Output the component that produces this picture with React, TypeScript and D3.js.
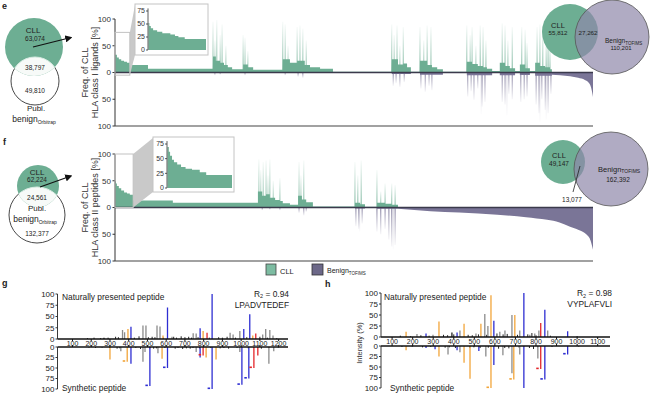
import React from "react";
import * as d3 from "d3";

type Pt = [number, number];
type Peak = [number, number, string, number?];

const FONT = "Arial, 'Liberation Sans', Helvetica, sans-serif";
const CLL = "#6dae93";
const BEN = "#7a7597";
const ZERO = "#3b3a4c";

// ---------------- Panel e (x: peptide rank percentile, y: frequency %) ----------------
const eCllSteps: Pt[] = [[0,33],[0.4,28],[0.8,25],[1.3,22],[1.9,20],[2.5,18],[3.1,14],[6.9,7],[20.5,30],[21.1,22],[22.0,18],[22.8,14],[23.6,10],[24.5,6],[26.8,15],[27.8,10],[28.9,5],[35.1,25],[36.6,18],[38.1,22],[39.7,14],[40.8,10],[42.9,7],[45.6,1.5],[57.9,25],[59.2,15],[60.3,17],[61.1,10],[61.9,1.5],[63.8,22],[65.3,14],[66.3,10],[67.4,6],[68.6,1.5],[73.6,20],[74.7,16],[75.9,12],[77.0,10],[77.8,7],[78.9,3],[80.5,18],[81.6,12],[82.6,8],[83.7,3],[84.7,15],[85.8,8],[86.8,3],[87.9,18],[88.9,12],[90.0,10],[91.0,6],[91.4,0],[100,0]];
const eCllSpikes: Pt[] = [[20.5,95],[20.9,60],[21.3,98],[22.0,70],[22.4,90],[23.2,50],[26.8,70],[27.2,65],[27.8,40],[35.1,95],[35.6,90],[36.2,50],[38.1,85],[38.7,88],[39.3,82],[40.0,60],[57.9,90],[58.4,70],[59.0,88],[59.6,50],[60.3,85],[63.8,85],[64.6,60],[65.3,88],[66.1,85],[73.6,88],[74.3,70],[74.7,85],[75.5,50],[76.4,88],[77.0,85],[77.6,60],[81.0,92],[81.6,88],[82.2,60],[83.1,85],[85.1,85],[85.8,80],[86.2,55],[88.3,85],[88.9,90],[89.5,80],[90.2,60],[90.6,85],[91.0,50]];
const eBenSteps: Pt[] = [[0,0],[20.5,1],[24.5,0.3],[35.1,1],[42.9,0.3],[57.9,3],[61.9,0.5],[63.8,4],[68.6,0.5],[73.6,5],[78.9,1],[80.5,5],[83.7,1],[84.7,4.5],[86.8,1],[87.9,6],[91.4,0],[100,0]];
const eBenSpikes: Pt[] = [[20.9,5],[22.0,4],[27.2,5],[35.6,5],[38.3,8],[39.3,10],[58.2,25],[58.8,20],[59.6,27],[60.5,18],[64.0,30],[64.9,36],[65.7,25],[66.3,33],[73.8,45],[74.5,35],[75.1,51],[75.9,30],[76.8,64],[77.4,55],[81.0,55],[81.6,60],[82.4,40],[83.1,50],[84.9,55],[85.6,50],[86.2,45],[88.1,60],[88.7,76],[89.3,50],[90.0,70],[90.6,76],[91.2,40]];
const eBenFaint: Pt[] = [[88.9,92],[90.2,88],[82.0,80],[76.6,78]];
const eBenTail: Pt[] = [[91.4,4],[93.1,5],[95.2,7],[96.9,10],[98.3,14],[99.2,20],[99.6,28],[99.8,36],[100,46]];
const eInset: Pt[] = [[0,52],[0.015,46],[0.04,42],[0.08,38],[0.15,35],[0.24,32],[0.38,30],[0.46,27],[0.52,24.5],[0.63,21],[1,21]];

// ---------------- Panel f ----------------
const fCllSteps: Pt[] = [[0,49],[0.2,45],[0.4,40],[0.8,36],[1.3,32],[1.9,28],[2.5,26],[3.1,24],[3.8,13],[12.1,9],[29.9,30],[30.8,22],[31.6,25],[32.4,18],[33.5,14],[34.5,12],[35.1,8],[36.6,5],[38.3,22],[39.1,15],[40.0,10],[41.4,2],[50.2,9],[51.3,6],[52.3,1.5],[54.8,9],[56.5,7],[57.9,5],[59.2,0],[100,0]];
const fCllSpikes: Pt[] = [[30.1,90],[30.5,70],[31.0,85],[31.6,88],[32.0,60],[32.4,90],[33.1,50],[34.5,55],[38.5,85],[38.9,60],[39.5,88],[50.2,85],[50.8,60],[51.5,88],[54.8,70],[55.6,30],[56.5,45],[57.9,45],[58.6,42]];
const fBenSteps: Pt[] = [[0,0],[29.9,0.6],[35.1,0.3],[38.3,1],[41.4,0.2],[50.2,2],[52.3,0.3],[54.8,2.5],[59.2,0],[100,0]];
const fBenSpikes: Pt[] = [[30.8,5],[32.4,4],[34.5,5],[38.5,10],[39.5,15],[40.0,8],[50.4,35],[51.0,40],[51.7,30],[54.8,45],[55.6,50],[56.5,40],[57.3,60],[57.9,73],[58.6,70]];
const fBenFaint: Pt[] = [[58.2,78],[51.2,45]];
const fBenTail: Pt[] = [[59.2,2.5],[66,7],[72,9.5],[80,13.5],[86,18],[90.4,23],[93,28],[95.2,36],[97,42],[98.7,51],[99.5,62],[100,79]];
const fInset: Pt[] = [[0,70],[0.02,62],[0.04,55],[0.07,48],[0.1,44],[0.15,40],[0.21,36],[0.28,33],[0.38,31],[0.5,27],[0.6,22],[1,22]];

const freqTicks = [100, 50, 0, -50, -100];
const insetTicks = [0, 25, 50, 75];

// ---------------- Panels g / h (m/z, relative intensity %) ----------------
const gNatural: Peak[] = [[268,3,"k"],[367,20,"g"],[378,15,"g"],[396,22,"o"],[412,27,"b"],[476,30,"g"],[492,30,"g"],[551,30,"g"],[567,28,"g"],[583,8,"o"],[607,70,"b"],[631,5,"g"],[744,13,"g"],[760,12,"g"],[781,24,"b"],[797,18,"o"],[818,14,"r"],[845,100,"b"],[941,14,"g"],[957,10,"g"],[993,18,"g"],[1014,22,"b"],[1046,55,"b"],[1062,8,"o"],[1078,12,"r"],[1115,10,"g"],[1131,22,"g"],[1153,20,"g"],[1170,8,"g"]];
const gSynthetic: Peak[] = [[300,30,"o"],[358,10,"g"],[392,35,"o",1],[412,40,"b"],[476,35,"g"],[487,12,"g"],[513,93,"b",1],[556,15,"g"],[578,28,"o"],[607,50,"b",1],[760,12,"g"],[781,25,"b"],[797,20,"r",1],[813,25,"o"],[845,100,"b",1],[866,30,"o"],[993,12,"g"],[1004,90,"b",1],[1041,75,"b",1],[1068,50,"r",1],[1089,20,"r"],[1148,40,"g"],[1174,10,"g"]];
const gNoise: Pt[] = [[180,2],[215,3],[250,2],[290,3],[330,5],[345,4],[430,3],[455,6],[505,4],[525,5],[540,4],[585,3],[640,5],[655,3],[680,6],[700,4],[720,5],[735,3],[770,4],[830,3],[880,4],[900,3],[925,5],[970,3],[1030,4],[1100,5],[1140,3],[1190,2]];
const gTicks = [100,200,300,400,500,600,700,800,900,1000,1100,1200];

const hNatural: Peak[] = [[168,12,"o"],[221,7,"g"],[265,8,"b"],[299,5,"g"],[328,35,"o"],[391,10,"k"],[416,10,"b"],[430,15,"g"],[450,30,"o"],[508,8,"g"],[532,30,"o"],[551,52,"g"],[566,25,"g"],[581,95,"o"],[595,37,"b"],[624,12,"g"],[649,15,"g"],[683,50,"g"],[697,50,"o"],[721,15,"g"],[741,100,"b"],[770,5,"g"],[794,8,"g"],[814,15,"g"],[823,32,"r"],[843,62,"b"],[857,15,"g"],[954,13,"b"]];
const hSynthetic: Peak[] = [[168,10,"o"],[265,5,"b"],[309,8,"b"],[328,25,"o"],[372,20,"g"],[416,10,"b"],[430,15,"g"],[450,40,"o"],[479,78,"o"],[522,12,"b"],[556,25,"g"],[581,100,"o",1],[595,45,"b"],[639,22,"g"],[683,65,"g"],[692,80,"o",1],[721,20,"g"],[741,100,"b"],[809,30,"g"],[823,55,"r",1],[843,80,"b",1],[954,20,"b",1]];
const hNoise: Pt[] = [[140,3],[190,2],[240,4],[280,3],[350,5],[370,4],[400,6],[470,5],[490,4],[520,6],[560,5],[610,8],[640,6],[660,7],[710,5],[760,6],[780,9],[800,4],[870,3],[1000,2]];
const hTicks = [100,200,300,400,500,600,700,800,900,1000,1100];
const intTicks = [0, 25, 50, 75, 100];

const PEAK_COLORS: Record<string, string> = { g: "#8b8b8b", o: "#f2a53a", b: "#2e2ed2", r: "#e3262a", k: "#222222" };

function FreqPanel(p: {
  yTop: number; yBot: number; cllSteps: Pt[]; cllSpikes: Pt[]; benSteps: Pt[]; benSpikes: Pt[];
  benFaint: Pt[]; benTail: Pt[]; inset: Pt[];
  box: { x: number; y: number; w: number; h: number; ax: number; ay0: number; ay75: number };
  zoom: { u1: number; vTop: number; vBot: number }; lines: string[];
}) {
  const x = d3.scaleLinear().domain([0, 100]).range([115, 593]);
  const y = d3.scaleLinear().domain([-100, 100]).range([p.yBot, p.yTop]);
  const y0 = y(0);
  const up = d3.area<Pt>().x(d => x(d[0])).y0(y0).y1(d => y(d[1])).curve(d3.curveStepAfter);
  const down = d3.area<Pt>().x(d => x(d[0])).y0(y0).y1(d => y(-d[1])).curve(d3.curveStepAfter);
  const tail = d3.area<Pt>().x(d => x(d[0])).y0(y0).y1(d => y(-d[1])).curve(d3.curveMonotoneX);
  const b = p.box;
  const xi = d3.scaleLinear().domain([0, 1]).range([b.ax + 0.5, b.x + b.w - 2]);
  const yi = d3.scaleLinear().domain([0, 75]).range([b.ay0, b.ay75]);
  const insetArea = d3.area<Pt>().x(d => xi(d[0])).y0(yi(0)).y1(d => yi(d[1])).curve(d3.curveStepAfter);
  const zx = x(p.zoom.u1);
  const trap = [[zx, y(p.zoom.vTop)], [b.x, b.y + 1], [b.x, b.y + b.h], [zx, y(p.zoom.vBot)]];
  const yc = (p.yTop + p.yBot) / 2;
  return (
    <g>
      <path d={down(p.benSteps) || ""} fill={BEN} />
      <path d={tail(p.benTail) || ""} fill={BEN} />
      {p.benFaint.map((d, i) => (
        <rect key={"bf" + i} x={x(d[0]) - 0.4} y={y0} width={0.8} height={y(-d[1]) - y0} fill="url(#gradB)" opacity={0.4} />
      ))}
      {p.benSpikes.map((d, i) => (
        <rect key={"bs" + i} x={x(d[0]) - 0.5} y={y0} width={1} height={y(-d[1]) - y0} fill="url(#gradB)" />
      ))}
      <path d={up(p.cllSteps) || ""} fill={CLL} />
      {p.cllSpikes.map((d, i) => (
        <rect key={"cs" + i} x={x(d[0]) - 0.5} y={y(d[1])} width={1} height={y0 - y(d[1])} fill="url(#gradC)" />
      ))}
      <line x1={x(0)} x2={x(100)} y1={y0} y2={y0} stroke={ZERO} strokeWidth={1.7} />
      <line x1={115} x2={115} y1={p.yTop} y2={p.yBot} stroke="#333" strokeWidth={1} />
      <line x1={115} x2={x(100)} y1={p.yBot} y2={p.yBot} stroke="#444" strokeWidth={1.2} />
      {freqTicks.map((t, i) => (
        <g key={"t" + i}>
          <line x1={112.5} x2={115} y1={y(t)} y2={y(t)} stroke="#333" />
          <text x={111} y={y(t) + 2.8} fontSize={8} textAnchor="end" fill="#333">{Math.abs(t)}</text>
        </g>
      ))}
      <text transform={`translate(88,${yc}) rotate(-90)`} fontSize={9} textAnchor="middle" fill="#333">{p.lines[0]}</text>
      <text transform={`translate(97.5,${yc}) rotate(-90)`} fontSize={9} textAnchor="middle" fill="#333">{p.lines[1]}</text>
      {/* zoom connector */}
      <polygon points={trap.map(q => q.join(",")).join(" ")} fill="#c9c9c9" />
      <rect x={115} y={y(p.zoom.vTop)} width={zx - 115} height={y(p.zoom.vBot) - y(p.zoom.vTop)} fill="none" stroke="#c2c2c2" strokeWidth={1} />
      {/* inset */}
      <rect x={b.x} y={b.y} width={b.w} height={b.h} fill="#fff" stroke="#c4c4c4" strokeWidth={1} />
      <path d={insetArea(p.inset) || ""} fill={CLL} />
      <line x1={b.ax} x2={b.ax} y1={yi(0)} y2={yi(80)} stroke="#333" strokeWidth={0.8} />
      {insetTicks.map(t => (
        <g key={"it" + t}>
          <line x1={b.ax - 2} x2={b.ax} y1={yi(t)} y2={yi(t)} stroke="#333" strokeWidth={0.8} />
          <text x={b.ax - 3} y={yi(t) + 2.4} fontSize={7} textAnchor="end" fill="#333">{t}</text>
        </g>
      ))}
    </g>
  );
}

function LeftVenn(p: { id: string; g: [number, number, number]; w: [number, number, number]; texts: [string, number, number, number][]; arrow: [number, number, number, number]; pub: [number, number] }) {
  return (
    <g>
      <defs>
        <clipPath id={p.id}><circle cx={p.g[0]} cy={p.g[1]} r={p.g[2]} /></clipPath>
      </defs>
      <circle cx={p.w[0]} cy={p.w[1]} r={p.w[2]} fill="#fff" stroke="#333" strokeWidth={0.9} />
      <circle cx={p.g[0]} cy={p.g[1]} r={p.g[2]} fill={CLL} />
      <circle cx={p.w[0]} cy={p.w[1]} r={p.w[2]} fill="#f7faf8" stroke="#d8ebe2" strokeWidth={1} clipPath={`url(#${p.id})`} />
      {p.texts.map(([s, x, y, fs], i) => (
        <text key={i} x={x} y={y} fontSize={fs} textAnchor="middle" fill="#222">{s}</text>
      ))}
      <text x={p.pub[0]} y={p.pub[1]} fontSize={8} textAnchor="middle" fill="#222">Publ.</text>
      <text x={p.pub[0] - 2} y={p.pub[1] + 11} fontSize={8.5} textAnchor="middle" fill="#222">benign<tspan fontSize={5} dy={2}>Orbitrap</tspan></text>
      <line x1={p.arrow[0]} y1={p.arrow[1]} x2={p.arrow[2]} y2={p.arrow[3]} stroke="#111" strokeWidth={1.2} markerEnd="url(#arrowHead)" />
    </g>
  );
}

function RightVenn(p: { g: [number, number, number]; b: [number, number, number]; children?: React.ReactNode }) {
  return (
    <g>
      <circle cx={p.g[0]} cy={p.g[1]} r={p.g[2]} fill={CLL} />
      <circle cx={p.b[0]} cy={p.b[1]} r={p.b[2]} fill="rgb(142,135,169)" fillOpacity={0.7} stroke="#555" strokeWidth={0.8} />
      {p.children}
    </g>
  );
}

function Spectrum(p: {
  domain: [number, number]; range: [number, number]; upZero: number; upTop: number; loZero: number; loBot: number;
  natural: Peak[]; synthetic: Peak[]; noise: Pt[]; ticks: number[]; labelY: number;
}) {
  const x = d3.scaleLinear().domain(p.domain).range(p.range);
  const yu = d3.scaleLinear().domain([0, 100]).range([p.upZero, p.upTop]);
  const yl = d3.scaleLinear().domain([0, 100]).range([p.loZero, p.loBot]);
  return (
    <g>
      {p.noise.map((d, i) => (
        <g key={"n" + i}>
          <line x1={x(d[0])} x2={x(d[0])} y1={yu(0)} y2={yu(d[1])} stroke="#222" strokeWidth={1} />
          <line x1={x(d[0] + 8)} x2={x(d[0] + 8)} y1={yl(0)} y2={yl(d[1] * 0.8)} stroke="#222" strokeWidth={1} />
        </g>
      ))}
      {p.natural.map((d, i) => (
        <line key={"u" + i} x1={x(d[0])} x2={x(d[0])} y1={yu(0)} y2={yu(d[1])} stroke={PEAK_COLORS[d[2]]} strokeWidth={1.3} />
      ))}
      {p.synthetic.map((d, i) => (
        <g key={"l" + i}>
          <line x1={x(d[0])} x2={x(d[0])} y1={yl(0)} y2={yl(d[1])} stroke={PEAK_COLORS[d[2]]} strokeWidth={1.3} />
          {d[3] ? <rect x={x(d[0]) - 4.5} y={yl(d[1]) - 1.5} width={2.5} height={1.6} fill={PEAK_COLORS[d[2]]} /> : null}
        </g>
      ))}
      <line x1={p.range[0]} x2={p.range[1]} y1={p.upZero} y2={p.upZero} stroke="#111" strokeWidth={1.3} />
      <line x1={p.range[0]} x2={p.range[1]} y1={p.loZero} y2={p.loZero} stroke="#111" strokeWidth={1.3} />
      {p.ticks.map(t => (
        <g key={"x" + t}>
          <line x1={x(t)} x2={x(t)} y1={p.upZero} y2={p.upZero + 2} stroke="#111" />
          <line x1={x(t)} x2={x(t)} y1={p.loZero} y2={p.loZero - 2} stroke="#111" />
          <text x={x(t)} y={p.labelY} fontSize={7} textAnchor="middle" fill="#222">{t}</text>
        </g>
      ))}
      <line x1={p.range[0]} x2={p.range[0]} y1={p.upTop} y2={p.upZero} stroke="#222" strokeWidth={0.9} />
      <line x1={p.range[0]} x2={p.range[0]} y1={p.loZero} y2={p.loBot} stroke="#222" strokeWidth={0.9} />
      {intTicks.map(t => (
        <g key={"y" + t}>
          <line x1={p.range[0] - 2} x2={p.range[0]} y1={yu(t)} y2={yu(t)} stroke="#222" strokeWidth={0.9} />
          <text x={p.range[0] - 3} y={yu(t) + 2.8} fontSize={8} textAnchor="end" fill="#222">{t}</text>
          <line x1={p.range[0] - 2} x2={p.range[0]} y1={yl(t)} y2={yl(t)} stroke="#222" strokeWidth={0.9} />
          <text x={p.range[0] - 3} y={yl(t) + 2.8} fontSize={8} textAnchor="end" fill="#222">{t}</text>
        </g>
      ))}
    </g>
  );
}

export default function App() {
  return (
    <svg width={650} height={398} style={{ position: "absolute", left: 0, top: 0, background: "#fff" }} fontFamily={FONT}>
      <defs>
        <linearGradient id="gradC" x1="0" y1="1" x2="0" y2="0">
          <stop offset="0%" stopColor={CLL} stopOpacity={1} />
          <stop offset="100%" stopColor={CLL} stopOpacity={0.06} />
        </linearGradient>
        <linearGradient id="gradB" x1="0" y1="0" x2="0" y2="1">
          <stop offset="0%" stopColor={BEN} stopOpacity={1} />
          <stop offset="100%" stopColor={BEN} stopOpacity={0.08} />
        </linearGradient>
        <marker id="arrowHead" viewBox="0 0 10 10" refX="8" refY="5" markerWidth="6" markerHeight="6" orient="auto">
          <path d="M0,0 L10,5 L0,10 z" fill="#111" />
        </marker>
      </defs>

      {/* panel labels */}
      <text x={2} y={9} fontSize={9} fontWeight="bold" fill="#222">e</text>
      <text x={3} y={145} fontSize={9} fontWeight="bold" fill="#222">f</text>
      <text x={2} y={286} fontSize={9} fontWeight="bold" fill="#222">g</text>
      <text x={325} y={287} fontSize={9} fontWeight="bold" fill="#222">h</text>

      {/* panel e */}
      <LeftVenn id="clipE" g={[34, 47, 29]} w={[35, 81, 24]} arrow={[33, 47, 71, 37.5]} pub={[36, 111]}
        texts={[["CLL", 33, 33, 8], ["63,074", 35, 40.5, 6.5], ["38,797", 35, 69.5, 6.5], ["49,810", 35, 92.5, 6.5]]} />
      <FreqPanel yTop={19} yBot={126} cllSteps={eCllSteps} cllSpikes={eCllSpikes} benSteps={eBenSteps} benSpikes={eBenSpikes}
        benFaint={eBenFaint} benTail={eBenTail} inset={eInset}
        box={{ x: 135, y: 4, w: 73, h: 51, ax: 148, ay0: 50, ay75: 11 }} zoom={{ u1: 3.1, vTop: 75, vBot: -5 }}
        lines={["Freq. of CLL", "HLA class I ligands [%]"]} />
      <RightVenn g={[570, 32, 28]} b={[612, 37, 37]}>
        <text x={558} y={27.5} fontSize={7.5} textAnchor="middle" fill="#222">CLL</text>
        <text x={558} y={34.5} fontSize={6.2} textAnchor="middle" fill="#222">55,812</text>
        <text x={588} y={34.5} fontSize={6.2} textAnchor="middle" fill="#222">27,262</text>
        <text x={605} y={43} fontSize={6.5} fill="#222">Benign<tspan fontSize={4.5} dy={1.5}>TOFIMS</tspan></text>
        <text x={621} y={50} fontSize={6} textAnchor="middle" fill="#222">110,201</text>
      </RightVenn>

      {/* panel f */}
      <LeftVenn id="clipF" g={[38, 186, 21]} w={[37, 215, 28]} arrow={[40, 187, 71, 176]} pub={[37, 211]}
        texts={[["CLL", 37, 174.5, 8], ["62,224", 37, 182, 6.5], ["24,561", 37, 199.5, 6.5], ["132,377", 37, 236, 6.5]]} />
      <FreqPanel yTop={154} yBot={261} cllSteps={fCllSteps} cllSpikes={fCllSpikes} benSteps={fBenSteps} benSpikes={fBenSpikes}
        benFaint={fBenFaint} benTail={fBenTail} inset={fInset}
        box={{ x: 153, y: 137, w: 81, h: 55, ax: 167, ay0: 188, ay75: 144 }} zoom={{ u1: 3.8, vTop: 100, vBot: 0 }}
        lines={["Freq. of CLL", "HLA class II peptides [%]"]} />
      <RightVenn g={[563, 162, 22]} b={[611, 169, 37]}>
        <text x={559} y={157.5} fontSize={7.5} textAnchor="middle" fill="#222">CLL</text>
        <text x={559} y={165.5} fontSize={6.5} textAnchor="middle" fill="#222">49,147</text>
        <text x={598} y={171.5} fontSize={7.5} fill="#222">Benign<tspan fontSize={5} dy={1.5}>TOFIMS</tspan></text>
        <text x={618} y={182} fontSize={6.5} textAnchor="middle" fill="#222">162,392</text>
        <line x1={573} y1={192} x2={580} y2={166} stroke="#222" strokeWidth={0.8} />
        <text x={572} y={201.5} fontSize={6.5} textAnchor="middle" fill="#222">13,077</text>
      </RightVenn>

      {/* legend */}
      <rect x={266} y={264} width={10} height={11} fill="#7dbca2" stroke="#444" strokeWidth={0.8} />
      <text x={280} y={273.5} fontSize={7.5} fill="#222">CLL</text>
      <rect x={312} y={264} width={11} height={11} fill="#6c6888" stroke="#333" strokeWidth={0.8} />
      <text x={327} y={273} fontSize={7} fill="#222">Benign<tspan fontSize={4.5} dy={2}>TOFIMS</tspan></text>

      {/* panel g */}
      <Spectrum domain={[20, 1250]} range={[57.5, 288]} upZero={339} upTop={294} loZero={347} loBot={389}
        natural={gNatural} synthetic={gSynthetic} noise={gNoise} ticks={gTicks} labelY={345.5} />
      <text x={62} y={300} fontSize={8.4} fill="#222">Naturally presented peptide</text>
      <text x={62} y={391} fontSize={8.4} fill="#222">Synthetic peptide</text>
      <text x={289} y={296.5} fontSize={8.4} textAnchor="end" fill="#222">R<tspan fontSize={5.5} dy={1.5}>2</tspan><tspan dy={-1.5}> = 0.94</tspan></text>
      <text x={289} y={307.5} fontSize={8.4} textAnchor="end" fill="#222">LPADVTEDEF</text>

      {/* panel h */}
      <Spectrum domain={[46, 1160]} range={[381, 610]} upZero={337} upTop={293} loZero={346} loBot={388}
        natural={hNatural} synthetic={hSynthetic} noise={hNoise} ticks={hTicks} labelY={344} />
      <text transform="translate(362,343) rotate(-90)" fontSize={7.5} textAnchor="middle" fill="#333">Intensity (%)</text>
      <text x={384} y={300} fontSize={8.4} fill="#222">Naturally presented peptide</text>
      <text x={390} y={391} fontSize={8.4} fill="#222">Synthetic peptide</text>
      <text x={612} y={296} fontSize={8.4} textAnchor="end" fill="#222">R<tspan fontSize={5.5} dy={1.5}>2</tspan><tspan dy={-1.5}> = 0.98</tspan></text>
      <text x={612} y={307} fontSize={8.4} textAnchor="end" fill="#222">VYPLAFVLI</text>
    </svg>
  );
}
